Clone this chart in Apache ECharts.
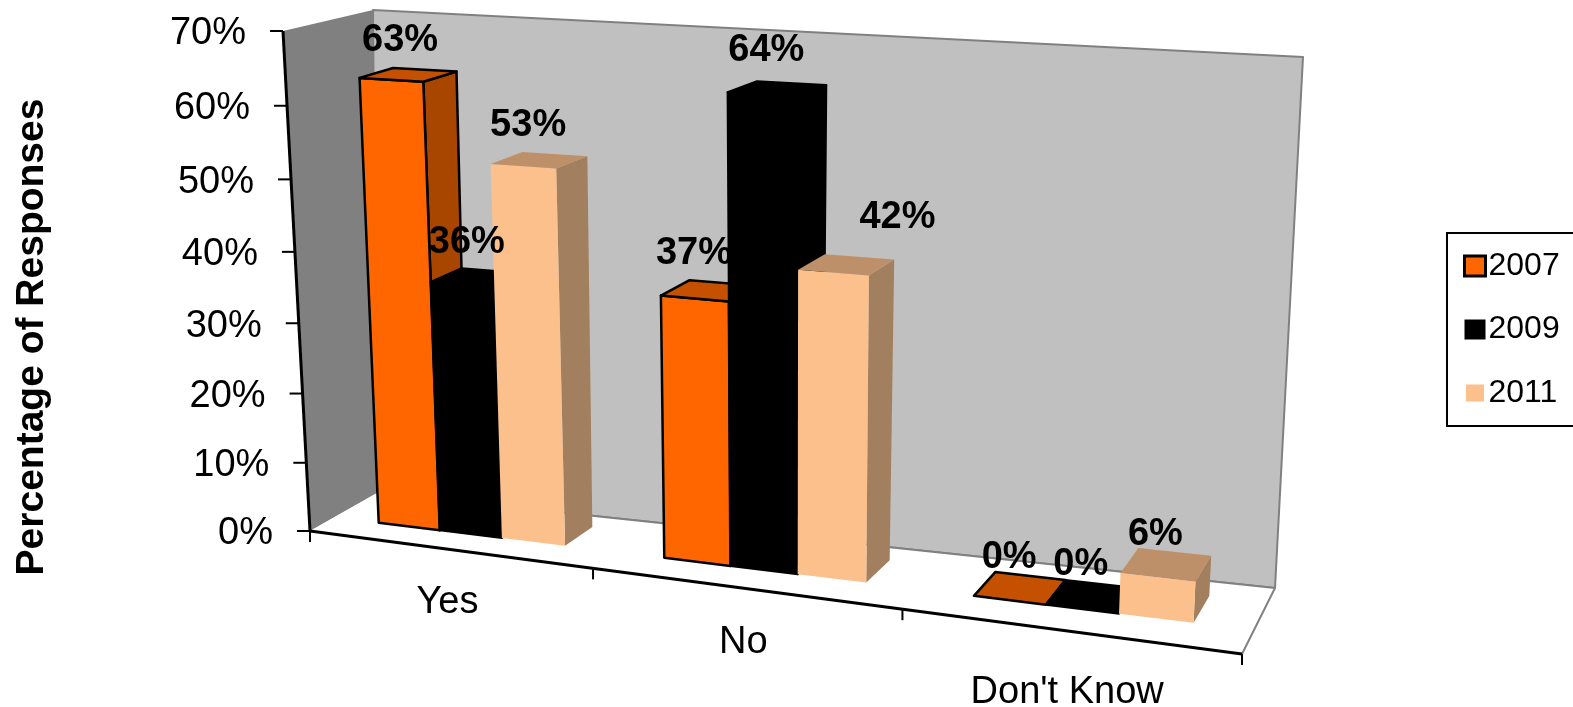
<!DOCTYPE html>
<html>
<head>
<meta charset="utf-8">
<style>html,body{margin:0;padding:0;background:#fff;overflow:hidden}#c{width:1573px;height:707px}</style>
<script src="https://cdn.jsdelivr.net/npm/echarts@6/dist/echarts.min.js"></script>
</head>
<body>
<div id="c"></div>
<script>
// ---- data ----
const categories = ['Yes', 'No', "Don't Know"];
const years = ['2007', '2009', '2011'];
const values2007 = [63, 36.5, 0];
const values2009 = [35.6, 64, 0];
const values2011 = [52.5, 41.5, 5.5];
const valueTicks = [0, 10, 20, 30, 40, 50, 60, 70];
const axisTitle = 'Percentage of Responses';

// ---- 3D view: where the chart's box lands on the page ----
const frontPlane = [[310, 531], [1242, 654], [1270, 84], [283, 31]];
const backPlane = [[377, 493], [1275, 588], [1303, 57], [373, 10]];
const barFrontPlane = [[310, 531], [1242, 654], [1270, 84], [281, 31]];
const barBackPlane = [[377, 493], [1275, 588], [1303, 57], [363, 10]];
const barGap = 0.0545, barWidth = 0.0735, depthFront = 0.36, depthBack = 0.78;
const categoryLabelDrop = [53, 54, 61];
const labelOffset = [-11, -34];
const labelNudge = {
  '0:0': [3, 0], '1:0': [0, -1], '2:0': [0, -1],
  '0:1': [-4, -3], '1:1': [0, -4], '2:1': [62, -13],
  '0:2': [0, 3], '1:2': [0, 2], '2:2': [0, 4]
};
const FONT = '"Liberation Sans", Arial, sans-serif';

const styles = [
  { front: '#FF6600', top: '#C45000', side: '#A84600', stroke: '#000', lw: 2.5 },
  { front: '#000000', top: '#000000', side: '#000000', stroke: '#000', lw: 2 },
  { front: '#FBC08C', top: '#BE9069', side: '#A27F5F', stroke: null, lw: 0 }
];

function homography(q) {
  const [p0, p1, p2, p3] = q;
  const dx1 = p1[0] - p2[0], dx2 = p3[0] - p2[0], sx = p0[0] - p1[0] + p2[0] - p3[0];
  const dy1 = p1[1] - p2[1], dy2 = p3[1] - p2[1], sy = p0[1] - p1[1] + p2[1] - p3[1];
  const det = dx1 * dy2 - dx2 * dy1;
  const g = (sx * dy2 - dx2 * sy) / det, h = (dx1 * sy - sx * dy1) / det;
  const a = p1[0] - p0[0] + g * p1[0], b = p3[0] - p0[0] + h * p3[0], c = p0[0];
  const d = p1[1] - p0[1] + g * p1[1], e = p3[1] - p0[1] + h * p3[1], f = p0[1];
  return (u, v) => {
    const k = g * u + h * v + 1;
    return [(a * u + b * v + c) / k, (d * u + e * v + f) / k];
  };
}
function projector(front, back) {
  const hF = homography(front), hB = homography(back);
  return (u, v, w) => {
    const p = hF(u, v), q = hB(u, v);
    return [p[0] + (q[0] - p[0]) * w, p[1] + (q[1] - p[1]) * w];
  };
}
const project = projector(frontPlane, backPlane);
const projectBar = projector(barFrontPlane, barBackPlane);

// Turn an axis-scale pixel from the hidden grid into unit box coordinates.
function toUnit(api, params, cat, val) {
  const c = api.coord([cat, val]), s = params.coordSys;
  return [(c[0] - s.x) / s.width, 1 - (c[1] - s.y) / s.height];
}

function poly(points, fill, stroke, lw, z2) {
  return { type: 'polygon', z2, shape: { points }, style: { fill, stroke: stroke || 'none', lineWidth: lw || 0, lineJoin: 'round' } };
}
function seg(a, b, stroke, lw, z2) {
  return { type: 'line', z2, shape: { x1: a[0], y1: a[1], x2: b[0], y2: b[1] }, style: { stroke, lineWidth: lw } };
}
function text(str, x, y, size, weight, align, z2, rotation) {
  return {
    type: 'text', z2, x, y, rotation: rotation || 0,
    style: { text: str, fill: '#000', font: weight + ' ' + size + 'px ' + FONT, textAlign: align, textVerticalAlign: 'middle' }
  };
}

function renderFrame(params, api) {
  const ch = [];
  // walls and floor
  ch.push(poly([project(0, 0, 0), project(0, 1, 0), project(0, 1, 1), project(0, 0, 1)], '#808080', null, 0, 1));
  ch.push(poly([project(0, 0, 1), project(1, 0, 1), project(1, 1, 1), project(0, 1, 1)], '#C0C0C0', '#808080', 2, 1));
  ch.push(poly([project(0, 0, 0), project(1, 0, 0), project(1, 0, 1), project(0, 0, 1)], '#FFFFFF', null, 0, 2));
  ch.push(seg(project(0, 0, 1), project(1, 0, 1), '#808080', 2, 2));
  ch.push(seg(project(1, 0, 1), project(1, 0, 0), '#808080', 2, 2));
  // value axis
  ch.push(seg(project(0, 0, 0), project(0, 1, 0), '#000', 3, 3));
  valueTicks.forEach(val => {
    const v = toUnit(api, params, 0, val)[1];
    const p = project(0, v, 0);
    ch.push(seg([p[0] - 13, p[1]], p, '#000', 2, 3));
    ch.push(text(val + '%', p[0] - 37, p[1] + 3, 38, 'normal', 'right', 3));
  });
  // category axis
  ch.push(seg(project(0, 0, 0), project(1, 0, 0), '#000', 3, 3));
  for (let i = 0; i <= categories.length; i++) {
    const p = project(i / categories.length, 0, 0);
    ch.push(seg(p, [p[0], p[1] + 11], '#000', 2, 3));
  }
  categories.forEach((c, i) => {
    const u = toUnit(api, params, i, 0)[0];
    const p = project(u, 0, 0);
    ch.push(text(c, p[0] - 1, p[1] + categoryLabelDrop[i], 38, 'normal', 'center', 3));
  });
  ch.push(text(axisTitle, 32, 337, 39, 'bold', 'center', 3, Math.PI / 2));
  return { type: 'group', children: ch };
}

function renderBar(si) {
  return function (params, api) {
    const cat = api.value(0), val = api.value(1);
    const centre = toUnit(api, params, cat, 0)[0];
    const bottom = toUnit(api, params, cat, 0)[1];
    const top = toUnit(api, params, cat, val)[1];
    const u0 = centre - 1 / (2 * categories.length) + barGap + si * barWidth, u1 = u0 + barWidth;
    const s = styles[si], z = 10 + cat * 10 + si;
    const ch = [];
    const P = projectBar;
    const isFlat = val === 0;
    if (!isFlat) {
      ch.push(poly([P(u1, bottom, depthFront), P(u1, bottom, depthBack), P(u1, top, depthBack), P(u1, top, depthFront)], s.side, s.stroke, s.lw, z));
      ch.push(poly([P(u0, bottom, depthFront), P(u1, bottom, depthFront), P(u1, top, depthFront), P(u0, top, depthFront)], s.front, s.stroke, s.lw, z));
    }
    ch.push(poly([P(u0, top, depthFront), P(u1, top, depthFront), P(u1, top, depthBack), P(u0, top, depthBack)], s.top, s.stroke, s.lw, z));
    const a = P(u0, top, depthFront), b = P(u1, top, depthFront), c = P(u1, top, depthBack), d = P(u0, top, depthBack);
    const cx = (a[0] + b[0] + c[0] + d[0]) / 4, cy = (a[1] + b[1] + c[1] + d[1]) / 4;
    const n = labelNudge[si + ':' + cat] || [0, 0];
    ch.push(text(Math.round(val) + '%', cx + labelOffset[0] + n[0], cy + labelOffset[1] + n[1], 38, 'bold', 'center', 100));
    return { type: 'group', children: ch };
  };
}

function barSeries(name, values, si) {
  return {
    name, type: 'custom', clip: false, coordinateSystem: 'cartesian2d',
    itemStyle: { color: styles[si].front },
    encode: { x: 0, y: 1 },
    data: categories.map((c, i) => [c, values[i]]),
    renderItem: renderBar(si)
  };
}

const chart = echarts.init(document.getElementById('c'), null, { renderer: 'canvas' });
chart.setOption({
  animation: false,
  backgroundColor: '#fff',
  grid: { left: 0, top: 0, width: 900, height: 700, show: false },
  xAxis: { type: 'category', data: categories, show: false },
  yAxis: { type: 'value', min: 0, max: 70, interval: 10, show: false },
  legend: {
    orient: 'vertical', left: 1447, top: 233, width: 300,
    padding: [17, 120, 17, 16], itemGap: 31.5, itemWidth: 21, itemHeight: 20,
    borderColor: '#000', borderWidth: 2, backgroundColor: '#fff',
    selectedMode: false,
    textStyle: { fontFamily: FONT, fontSize: 32, color: '#000', padding: [0, 0, 0, -2] },
    data: [
      { name: years[0], icon: 'rect', itemStyle: { color: styles[0].front, borderColor: '#000', borderWidth: 3 } },
      { name: years[1], icon: 'rect', itemStyle: { color: styles[1].front, borderColor: '#000', borderWidth: 0 } },
      { name: years[2], icon: 'rect', itemStyle: { color: styles[2].front, borderColor: '#fff', borderWidth: 3 } }
    ]
  },
  series: [
    { name: 'frame', type: 'custom', clip: false, coordinateSystem: 'cartesian2d', silent: true,
      data: [[categories[0], 0]], encode: { x: 0, y: 1 }, renderItem: renderFrame },
    barSeries(years[0], values2007, 0),
    barSeries(years[1], values2009, 1),
    barSeries(years[2], values2011, 2)
  ]
});
</script>
</body>
</html>
